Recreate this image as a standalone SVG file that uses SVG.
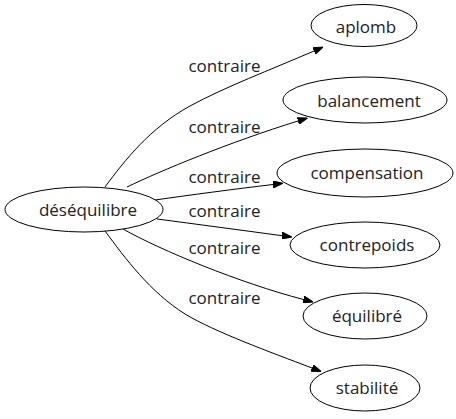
<svg xmlns="http://www.w3.org/2000/svg" width="456" height="419" viewBox="0 0 456 419">
<style>
.node ellipse{fill:#fff;stroke:#000;stroke-width:1}
.node text{font-family:"Open Sans","DejaVu Sans",sans-serif;font-size:17px;fill:#222;text-anchor:middle}
.edges path{fill:none;stroke:#000;stroke-width:1;marker-end:url(#arrow)}
.edges text{font-family:"Open Sans","DejaVu Sans",sans-serif;font-size:17px;fill:#222;text-anchor:middle}
</style>
<defs>
<marker id="arrow" viewBox="0 -3.5 10 7" refX="0" refY="0" markerWidth="10" markerHeight="7" markerUnits="userSpaceOnUse" orient="auto">
<path d="M0,-3.5 L10,0 L0,3.5 z" fill="#000" stroke="#000" stroke-width="1"/>
</marker>
</defs>
<rect width="456" height="419" fill="#fff"/>
<g class="edges" id="edges">
<path d="M105,187 C125,160 150,128 190,106 C225,87 270,70 314,51"/>
<text x="224.5" y="72">contraire</text>
<path d="M127,187 C160,171 230,142 298,121"/>
<text x="224.5" y="133">contraire</text>
<path d="M155,200 C190,195 235,189 273,184.5"/>
<text x="224.5" y="183">contraire</text>
<path d="M157,219 C195,224 240,230 282,235.7"/>
<text x="224.5" y="217">contraire</text>
<path d="M123,229 C160,250 240,283 303.5,299.5"/>
<text x="224.5" y="254">contraire</text>
<path d="M105,231 C125,258 150,292 185,314 C215,332 270,352 312,368"/>
<text x="224.5" y="304">contraire</text>
</g>
<g class="node" id="n-desequilibre">
<ellipse cx="84" cy="209.5" rx="79" ry="22.5"/>
<text x="88" y="215.5">déséquilibre</text>
</g>
<g class="node" id="n-aplomb">
<ellipse cx="364" cy="25.5" rx="53" ry="21"/>
<text x="366" y="32.5">aplomb</text>
</g>
<g class="node" id="n-balancement">
<ellipse cx="365" cy="100" rx="82" ry="23"/>
<text x="369" y="107">balancement</text>
</g>
<g class="node" id="n-compensation">
<ellipse cx="365" cy="173" rx="88" ry="24"/>
<text x="367" y="179">compensation</text>
</g>
<g class="node" id="n-contrepoids">
<ellipse cx="365" cy="245" rx="75" ry="23"/>
<text x="367" y="251">contrepoids</text>
</g>
<g class="node" id="n-equilibre">
<ellipse cx="365" cy="316" rx="62" ry="23"/>
<text x="367" y="322">équilibré</text>
</g>
<g class="node" id="n-stabilite">
<ellipse cx="365" cy="388" rx="55" ry="23"/>
<text x="367" y="394">stabilité</text>
</g>
</svg>
